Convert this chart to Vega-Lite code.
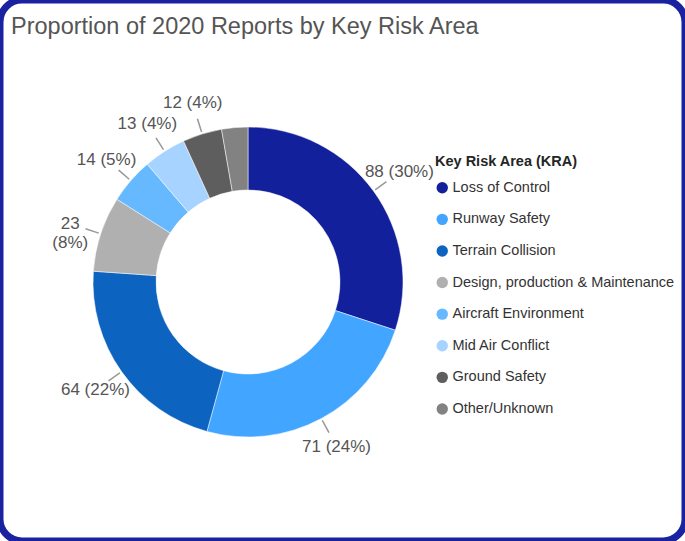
{
  "$schema": "https://vega.github.io/schema/vega-lite/v6.json",
  "width": 685,
  "height": 541,
  "autosize": {"type": "none"},
  "padding": 0,
  "background": "white",
  "title": {
    "text": "Proportion of 2020 Reports by Key Risk Area",
    "anchor": "start",
    "frame": "group",
    "offset": -42,
    "dx": 11,
    "font": "Liberation Sans",
    "fontSize": 23.5,
    "fontWeight": "normal",
    "color": "#555555"
  },
  "data": {
    "values": [
      {"kra": "Loss of Control", "order": 1, "count": 88, "label": "88 (30%)"},
      {"kra": "Runway Safety", "order": 2, "count": 71, "label": "71 (24%)"},
      {"kra": "Terrain Collision", "order": 3, "count": 64, "label": "64 (22%)"},
      {"kra": "Design, production & Maintenance", "order": 4, "count": 23, "label": "23\n(8%)"},
      {"kra": "Aircraft Environment", "order": 5, "count": 14, "label": "14 (5%)"},
      {"kra": "Mid Air Conflict", "order": 6, "count": 13, "label": "13 (4%)"},
      {"kra": "Ground Safety", "order": 7, "count": 12, "label": "12 (4%)"},
      {"kra": "Other/Unknown", "order": 8, "count": 8, "label": ""}
    ]
  },
  "layer": [
    {
      "data": {"values": [{}]},
      "mark": {"type": "rect", "fill": null, "stroke": "#1a22a0", "strokeWidth": 7, "cornerRadius": 22},
      "encoding": {}
    },
    {
      "mark": {"type": "arc", "innerRadius": 92, "outerRadius": 155, "x": 248, "y": 282, "stroke": "white", "strokeWidth": 0.5},
      "encoding": {
        "theta": {"field": "count", "type": "quantitative", "stack": true},
        "order": {"field": "order", "type": "quantitative"},
        "color": {
          "field": "kra",
          "type": "nominal",
          "sort": ["Loss of Control", "Runway Safety", "Terrain Collision", "Design, production & Maintenance", "Aircraft Environment", "Mid Air Conflict", "Ground Safety", "Other/Unknown"],
          "scale": {
            "domain": ["Loss of Control", "Runway Safety", "Terrain Collision", "Design, production & Maintenance", "Aircraft Environment", "Mid Air Conflict", "Ground Safety", "Other/Unknown"],
            "range": ["#12209c", "#42a5ff", "#0d63c0", "#b0b0b0", "#66b8ff", "#a6d3ff", "#5e5e5e", "#828282"]
          },
          "legend": {
            "title": "Key Risk Area (KRA)",
            "orient": "none",
            "legendX": 435,
            "legendY": 155,
            "titleFont": "Liberation Sans",
            "titleFontSize": 14.5,
            "titleFontWeight": "bold",
            "titleColor": "#252525",
            "titlePadding": 11,
            "labelFont": "Liberation Sans",
            "labelFontSize": 14.5,
            "labelColor": "#333333",
            "labelLimit": 300,
            "symbolType": "circle",
            "symbolSize": 130,
            "symbolStrokeWidth": 0,
            "labelOffset": 3,
            "rowPadding": 16.6
          }
        }
      }
    },
    {
      "transform": [
        {"filter": "datum.label != ''"},
        {"window": [{"op": "sum", "field": "count", "as": "cum"}], "sort": [{"field": "order"}], "frame": [null, 0]},
        {"calculate": "datum.cum - datum.count / 2 - 0.22", "as": "a"},
        {"calculate": "datum.cum - datum.count / 2 + 0.22", "as": "b"}
      ],
      "mark": {"type": "arc", "radius": 171, "radius2": 157, "x": 248, "y": 282, "color": "#9a9a9a"},
      "encoding": {
        "theta": {"field": "a", "type": "quantitative"},
        "theta2": {"field": "b"}
      }
    },
    {
      "mark": {"type": "text", "radius": 187, "x": 248, "y": 282, "font": "Liberation Sans", "fontSize": 17, "color": "#555555", "lineBreak": "\n"},
      "encoding": {
        "theta": {"field": "count", "type": "quantitative", "stack": true},
        "order": {"field": "order", "type": "quantitative"},
        "text": {"field": "label", "type": "nominal"}
      }
    }
  ]
}
